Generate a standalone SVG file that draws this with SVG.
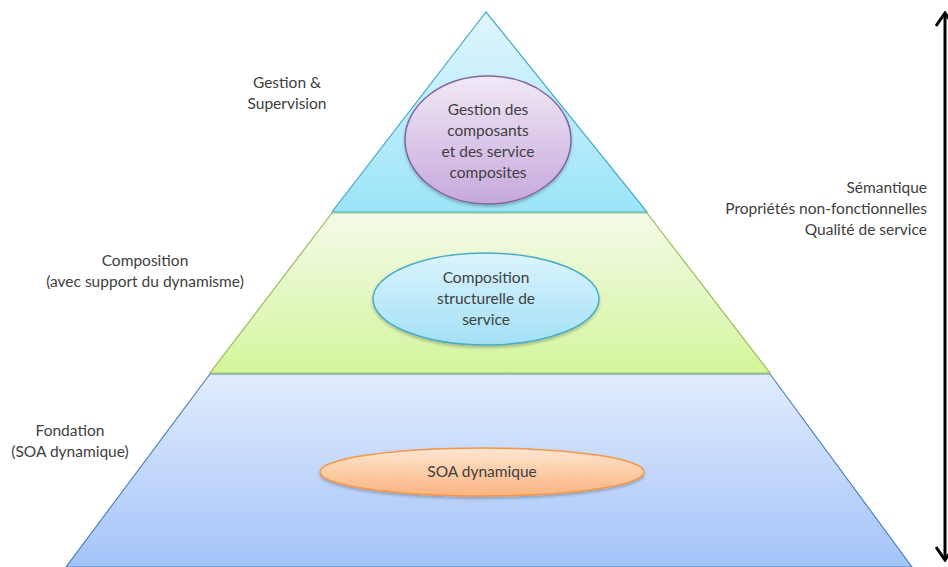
<svg xmlns="http://www.w3.org/2000/svg" width="948" height="567" viewBox="0 0 948 567">
<defs>
<linearGradient id="gTop" x1="0" y1="0" x2="0" y2="1"><stop offset="0" stop-color="#e0f6fd"/><stop offset="1" stop-color="#9be4f8"/></linearGradient>
<linearGradient id="gMid" x1="0" y1="0" x2="0" y2="1"><stop offset="0" stop-color="#f3fae8"/><stop offset="1" stop-color="#d4f59c"/></linearGradient>
<linearGradient id="gBot" x1="0" y1="0" x2="0" y2="1"><stop offset="0" stop-color="#e2ecfd"/><stop offset="1" stop-color="#a3c3f8"/></linearGradient>
<linearGradient id="gPur" x1="0" y1="0" x2="0" y2="1"><stop offset="0" stop-color="#f0e9f5"/><stop offset="1" stop-color="#c6a8dc"/></linearGradient>
<linearGradient id="gCya" x1="0" y1="0" x2="0" y2="1"><stop offset="0" stop-color="#dcf4fc"/><stop offset="1" stop-color="#a2e0f5"/></linearGradient>
<linearGradient id="gOra" x1="0" y1="0" x2="0" y2="1"><stop offset="0" stop-color="#fee6d2"/><stop offset="1" stop-color="#f9b47e"/></linearGradient>
<filter id="sh" x="-10%" y="-10%" width="120%" height="130%"><feDropShadow dx="0" dy="2" stdDeviation="1.5" flood-color="#000" flood-opacity="0.25"/></filter>
<marker id="ah" viewBox="0 0 16 20" refX="14" refY="10" markerWidth="16" markerHeight="20" markerUnits="userSpaceOnUse" orient="auto-start-reverse"><path d="M1,1 L14,10 L1,19" fill="none" stroke="#000" stroke-width="3" stroke-linejoin="miter"/></marker>
</defs>
<style>
text{font-family:Lato,"Liberation Sans",sans-serif;font-size:15.5px;fill:#404040;}
.c{text-anchor:middle;}
.r{text-anchor:end;}
.lvl{stroke-width:1.2;}
.oval{stroke-width:1.5;filter:url(#sh);}
</style>
<g id="layer-fondation">
<polygon class="lvl" points="210,374 770,374 912,567 66,567" fill="url(#gBot)" stroke="#4f81bd"/>
</g>
<g id="layer-composition">
<polygon class="lvl" points="332,213 647,213 770,373 210,373" fill="url(#gMid)" stroke="#9bbb59"/>
</g>
<g id="layer-gestion">
<polygon class="lvl" points="486,12 647,212 332,212" fill="url(#gTop)" stroke="#4bacc6"/>
</g>
<g id="node-gestion-composants">
<ellipse class="oval" cx="488" cy="140" rx="83" ry="64" fill="url(#gPur)" stroke="#8064a2"/>
<text class="c" x="488" y="115">Gestion des</text>
<text class="c" x="488" y="136">composants</text>
<text class="c" x="488" y="157">et des service</text>
<text class="c" x="488" y="178">composites</text>
</g>
<g id="node-composition-structurelle">
<ellipse class="oval" cx="486" cy="299" rx="113" ry="46" fill="url(#gCya)" stroke="#4bacc6"/>
<text class="c" x="486" y="283">Composition</text>
<text class="c" x="486" y="304">structurelle de</text>
<text class="c" x="486" y="325">service</text>
</g>
<g id="node-soa-dynamique">
<ellipse class="oval" cx="482" cy="472" rx="162" ry="24" fill="url(#gOra)" stroke="#f79646"/>
<text class="c" x="482" y="477">SOA dynamique</text>
</g>
<g id="label-gestion">
<text class="c" x="287" y="88">Gestion &amp;</text>
<text class="c" x="287" y="109">Supervision</text>
</g>
<g id="label-composition">
<text class="c" x="145" y="266">Composition</text>
<text class="c" x="145" y="287">(avec support du dynamisme)</text>
</g>
<g id="label-fondation">
<text class="c" x="70" y="436">Fondation</text>
<text class="c" x="70" y="457">(SOA dynamique)</text>
</g>
<g id="label-proprietes">
<text class="r" x="927" y="193">Sémantique</text>
<text class="r" x="927" y="214">Propriétés non-fonctionnelles</text>
<text class="r" x="927" y="235">Qualité de service</text>
</g>
<g id="connectors">
<line x1="945" y1="13" x2="945" y2="560" stroke="#000" stroke-width="3" marker-start="url(#ah)" marker-end="url(#ah)"/>
</g>
</svg>
